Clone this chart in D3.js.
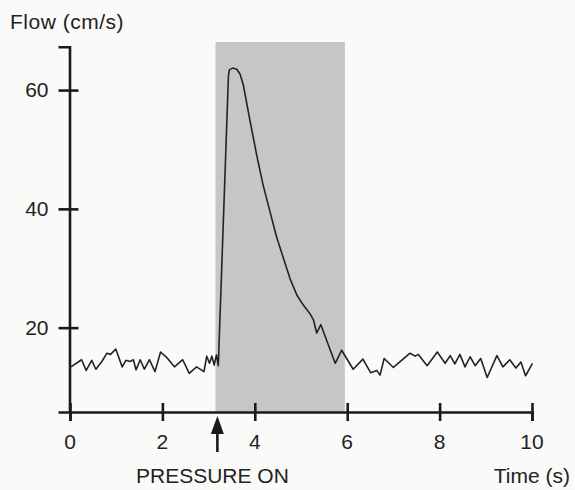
<!DOCTYPE html>
<html>
<head>
<meta charset="utf-8">
<script src="https://cdn.jsdelivr.net/npm/d3@7"></script>
<style>
  html, body { margin: 0; padding: 0; background: #fafaf8; }
  text { font-family: "Liberation Sans", Arial, Helvetica, sans-serif; fill: #222; }
</style>
</head>
<body>
<svg id="mainsvg" width="575" height="490"></svg>
<script>
// flow trace
const time = [0.02, 0.25, 0.35, 0.47, 0.56, 0.69, 0.80, 0.88, 0.99, 1.13, 1.21, 1.30, 1.37, 1.43, 1.52,
    1.61, 1.72, 1.84, 1.96, 2.09, 2.26, 2.44, 2.58, 2.74, 2.90, 2.96, 3.02, 3.07, 3.12, 3.17, 3.21,
    3.43, 3.45, 3.52, 3.61, 3.68, 3.75, 3.90, 4.04, 4.18, 4.33, 4.47, 4.62, 4.76, 4.91, 5.05, 5.19,
    5.27, 5.34, 5.43, 5.74, 5.88, 6.13, 6.34, 6.51, 6.64, 6.71, 6.80, 7.00, 7.36, 7.47, 7.54, 7.73,
    7.95, 8.12, 8.23, 8.33, 8.44, 8.55, 8.66, 8.77, 8.89, 9.03, 9.24, 9.37, 9.52, 9.65, 9.76, 9.86, 10.01];
const flow = [13.4, 14.6, 12.8, 14.5, 13.0, 14.3, 15.7, 15.5, 16.4, 13.4, 14.5, 14.3, 14.6, 12.9, 14.6,
    13.0, 14.6, 12.6, 15.9, 15.0, 13.4, 14.6, 12.3, 13.4, 12.6, 15.2, 14.0, 15.2, 13.7, 15.4, 13.6,
    62.5, 63.4, 63.7, 63.5, 62.7, 60.9, 54.7, 49.1, 44.0, 39.5, 35.3, 31.7, 28.3, 25.5, 23.8, 22.4,
    21.3, 19.1, 20.5, 14.0, 16.2, 13.0, 14.7, 12.4, 12.8, 12.0, 14.8, 13.3, 15.7, 15.2, 15.5, 13.6,
    15.9, 14.0, 15.3, 13.9, 15.5, 13.4, 15.1, 13.6, 14.8, 11.6, 15.3, 13.4, 14.6, 13.2, 14.2, 11.9, 14.0];

const xTicks = [0, 2, 4, 6, 8, 10];
const yTicks = [20, 40, 60];
const pressureOn = 3.19;
const shade = [3.15, 5.95];
const shadeTop = 68.1;

const svg = d3.select('#mainsvg');
const margin = { top: 46.7, left: 69.5 };
const innerWidth = 532 - margin.left;
const innerHeight = 412 - margin.top;

const xScale = d3.scaleLinear().domain([0, 10]).range([0.5, innerWidth]);
const yScale = d3.scaleLinear().domain([5.8, 67.3]).range([innerHeight, 0]);

const g = svg.append('g')
    .attr('transform', `translate(${margin.left}, ${margin.top})`);

// grey box while pressure is applied
g.append('rect')
    .attr('x', xScale(shade[0]))
    .attr('y', yScale(shadeTop))
    .attr('width', xScale(shade[1]) - xScale(shade[0]))
    .attr('height', innerHeight - yScale(shadeTop))
    .attr('fill', '#c6c6c6');

const line = d3.line()
    .x(d => xScale(d[0]))
    .y(d => yScale(d[1]));

g.append('path')
    .datum(time.map((t, i) => [t, flow[i]]))
    .attr('d', line)
    .attr('fill', 'none')
    .attr('stroke', '#222')
    .attr('stroke-width', 1.6)
    .attr('stroke-linejoin', 'round');

// axes (tick marks cross the axis line)
const xAxis = d3.axisBottom(xScale).tickValues(xTicks).tickSizeOuter(0).tickSize(9).tickFormat('');
const xg = g.append('g').attr('transform', `translate(0, ${innerHeight})`).call(xAxis);
xg.selectAll('.tick line').attr('y1', -9);

const yAxis = d3.axisLeft(yScale).tickValues(yTicks).tickSizeOuter(0).tickSize(11).tickFormat('');
const yg = g.append('g').call(yAxis);
yg.selectAll('.tick line').attr('x1', 9);

svg.selectAll('.domain, .tick line')
    .attr('stroke', '#1a1a1a')
    .attr('stroke-width', 2.6);
svg.selectAll('.tick text').remove();

// tick labels
svg.selectAll('.xlab').data(xTicks).join('text')
    .attr('class', 'xlab')
    .attr('x', d => margin.left + xScale(d))
    .attr('y', margin.top + innerHeight + 37)
    .attr('text-anchor', 'middle')
    .attr('font-size', '21px')
    .text(d => d);

svg.selectAll('.ylab').data(yTicks).join('text')
    .attr('class', 'ylab')
    .attr('x', margin.left - 21)
    .attr('y', d => margin.top + yScale(d))
    .attr('dy', '0.35em')
    .attr('text-anchor', 'end')
    .attr('font-size', '21px')
    .text(d => d);

// pressure-on arrow
const ax = xScale(pressureOn);
g.append('line')
    .attr('x1', ax).attr('x2', ax)
    .attr('y1', innerHeight + 16).attr('y2', innerHeight + 40)
    .attr('stroke', '#1a1a1a').attr('stroke-width', 2.6);
g.append('path')
    .attr('d', `M${ax},${innerHeight + 4} L${ax - 6.5},${innerHeight + 22} L${ax + 6.5},${innerHeight + 22} Z`)
    .attr('fill', '#1a1a1a');

// labels
svg.append('text').text('Flow (cm/s)')
    .attr('x', 10).attr('y', 29)
    .attr('font-size', '21px')
    .attr('letter-spacing', '0.5px');

svg.append('text').text('PRESSURE ON')
    .attr('x', 136).attr('y', 483)
    .attr('font-size', '21px');

svg.append('text').text('Time (s)')
    .attr('x', 570).attr('y', 483)
    .attr('text-anchor', 'end')
    .attr('font-size', '21px');
</script>
</body>
</html>
